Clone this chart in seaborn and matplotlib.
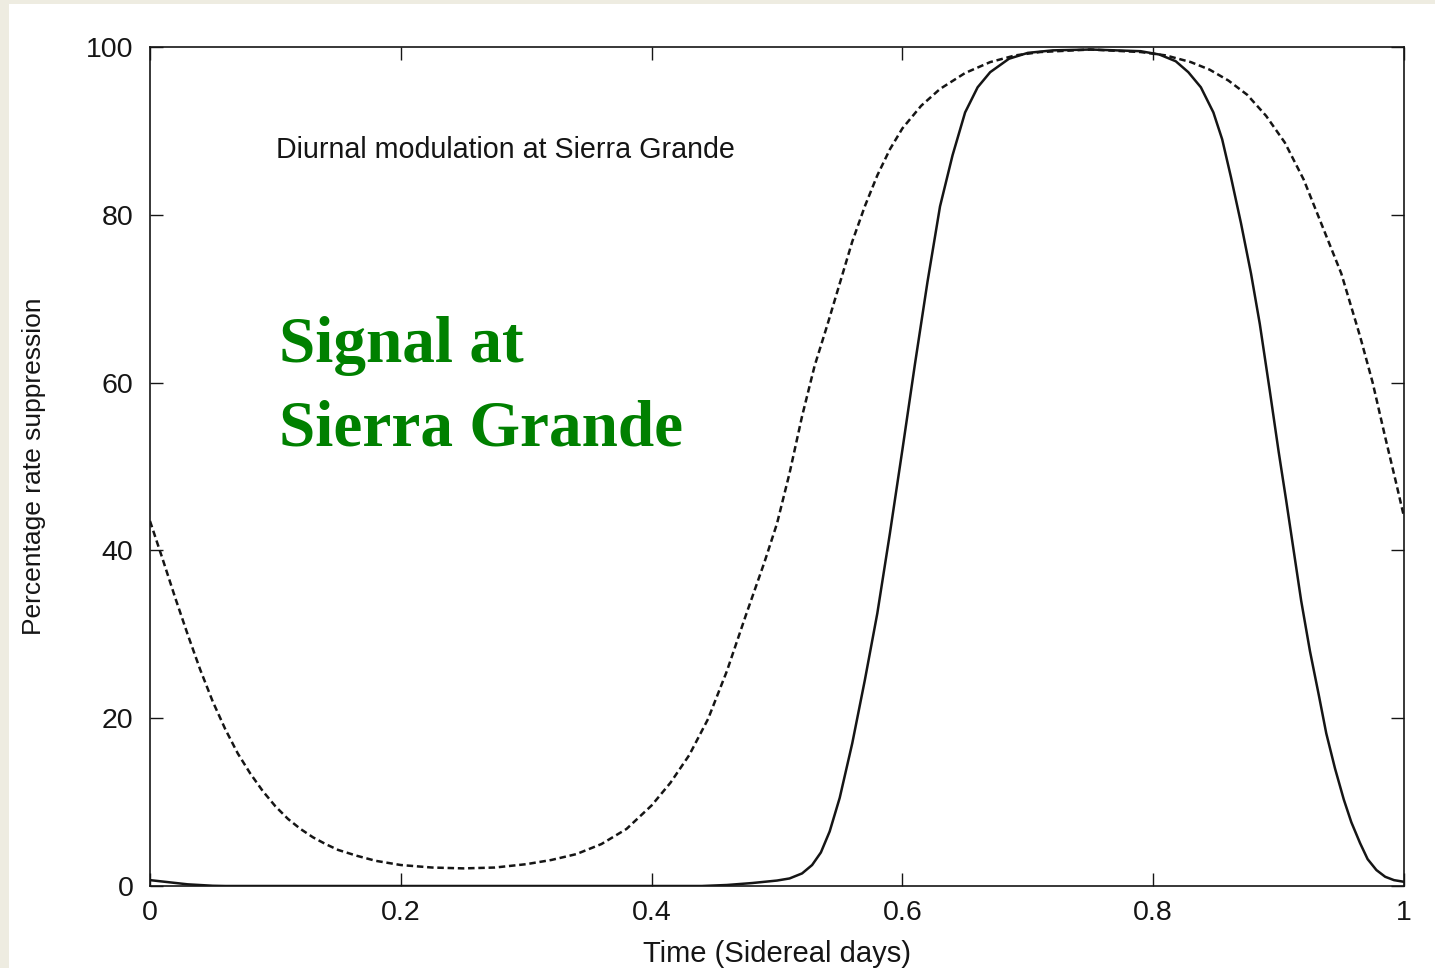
import numpy as np
import pandas as pd
import matplotlib
matplotlib.use("Agg")
import matplotlib.pyplot as plt
from matplotlib.patches import Rectangle
import seaborn as sns

# Time in sidereal days and percentage rate suppression for the two curves
time_dashed = [0.000, 0.010, 0.020, 0.030, 0.040, 0.050, 0.060, 0.070, 0.080, 0.090,
               0.100, 0.110, 0.120, 0.130, 0.140, 0.150, 0.165, 0.180, 0.200, 0.225,
               0.250, 0.275, 0.300, 0.320, 0.340, 0.360, 0.380, 0.400, 0.415, 0.430,
               0.445, 0.460, 0.475, 0.490, 0.500, 0.510, 0.520, 0.530, 0.540, 0.550,
               0.560, 0.570, 0.580, 0.590, 0.600, 0.615, 0.630, 0.650, 0.670, 0.690,
               0.710, 0.750, 0.790, 0.810, 0.830, 0.845, 0.860, 0.875, 0.890, 0.905,
               0.920, 0.935, 0.950, 0.965, 0.975, 0.985, 0.993, 1.000]
supp_dashed = [43.5, 39.0, 34.4, 30.0, 25.8, 22.0, 18.7, 15.8, 13.4, 11.3,
               9.5, 8.0, 6.8, 5.8, 5.0, 4.3, 3.6, 3.0, 2.5, 2.2,
               2.1, 2.2, 2.6, 3.1, 3.8, 5.0, 6.8, 9.6, 12.3, 15.6,
               19.9, 25.6, 32.2, 38.6, 43.2, 49.2, 56.0, 62.0, 66.8, 71.8,
               76.8, 81.0, 84.7, 87.8, 90.3, 93.0, 95.0, 96.9, 98.2, 99.0,
               99.4, 99.7, 99.4, 99.0, 98.2, 97.3, 96.0, 94.3, 91.8, 88.6,
               84.2, 78.6, 73.0, 65.5, 60.0, 53.5, 48.5, 44.0]

time_solid = [0.000, 0.015, 0.030, 0.050, 0.060, 0.440, 0.460, 0.480, 0.500, 0.510,
              0.520, 0.528, 0.535, 0.542, 0.550, 0.560, 0.570, 0.580, 0.590, 0.600,
              0.610, 0.620, 0.630, 0.640, 0.650, 0.660, 0.670, 0.685, 0.700, 0.720,
              0.750, 0.790, 0.805, 0.818, 0.828, 0.838, 0.848, 0.855, 0.862, 0.870,
              0.878, 0.885, 0.893, 0.900, 0.906, 0.912, 0.918, 0.925, 0.932, 0.938,
              0.945, 0.952, 0.958, 0.965, 0.971, 0.978, 0.985, 0.992, 1.000]
supp_solid = [0.7, 0.45, 0.2, 0.03, 0.0, 0.0, 0.12, 0.35, 0.65, 0.9,
              1.5, 2.5, 4.0, 6.5, 10.5, 17.0, 24.5, 32.5, 42.0, 52.0,
              62.2, 72.0, 81.0, 87.1, 92.2, 95.2, 97.0, 98.6, 99.3, 99.6,
              99.7, 99.5, 99.1, 98.3, 97.0, 95.2, 92.2, 89.0, 84.5, 79.0,
              73.0, 67.0, 59.0, 51.8, 46.0, 40.0, 34.0, 28.0, 22.8, 18.2,
              14.0, 10.3, 7.6, 5.1, 3.2, 1.9, 1.1, 0.7, 0.5]

x_ticks = [0, 0.2, 0.4, 0.6, 0.8, 1]
x_ticklabels = ["0", "0.2", "0.4", "0.6", "0.8", "1"]
y_ticks = [0, 20, 40, 60, 80, 100]
y_ticklabels = ["0", "20", "40", "60", "80", "100"]

sns.set_style("ticks")
plt.rcParams["font.family"] = ["Liberation Sans", "DejaVu Sans"]

W, H = 1435, 968
ink = "#151515"
fig = plt.figure(figsize=(W / 100, H / 100), dpi=100, facecolor="#EEECE1")
# white slide area
fig.patches.append(Rectangle((9 / W, 0), 1, 1 - 4 / H, transform=fig.transFigure,
                             facecolor="white", edgecolor="none", zorder=-10))

ax = fig.add_axes([150 / W, 1 - 886 / H, (1404 - 150) / W, (886 - 47) / H])
ax.set_facecolor("white")

dashed = pd.DataFrame({"t": time_dashed, "s": supp_dashed})
solid = pd.DataFrame({"t": time_solid, "s": supp_solid})

sns.lineplot(data=dashed, x="t", y="s", ax=ax, color=ink, linewidth=1.8,
             sort=False, estimator=None)
ax.lines[-1].set_dashes([2.6, 1.5])
sns.lineplot(data=solid, x="t", y="s", ax=ax, color=ink, linewidth=1.8,
             sort=False, estimator=None)

ax.set_xlim(0, 1)
ax.set_ylim(0, 100)
ax.set_xticks(x_ticks)
ax.set_xticklabels(x_ticklabels)
ax.set_yticks(y_ticks)
ax.set_yticklabels(y_ticklabels)
ax.tick_params(direction="in", length=9.5, width=1.0, top=True, right=True,
               labelsize=20.5, colors=ink)
ax.tick_params(axis="x", pad=10)
ax.tick_params(axis="y", pad=12)
for sp in ax.spines.values():
    sp.set_visible(True)
    sp.set_linewidth(1.2)
    sp.set_color(ink)

ax.set_xlabel("Time (Sidereal days)", fontsize=21, color=ink, labelpad=10)
ax.set_ylabel("Percentage rate suppression", fontsize=19, color=ink, labelpad=29)

ax.text((276 - 150) / 1254, 1 - (158 - 47) / 839,
        "Diurnal modulation at Sierra Grande", transform=ax.transAxes,
        fontsize=20.6, color=ink, ha="left", va="baseline")

serif = ["Liberation Serif", "DejaVu Serif"]
fig.text(279 / W, 1 - 362 / H, "Signal at", fontsize=47, color="#008000",
         fontweight="bold", family=serif, ha="left", va="baseline")
fig.text(279 / W, 1 - 445 / H, "Sierra Grande", fontsize=47, color="#008000",
         fontweight="bold", family=serif, ha="left", va="baseline")

fig.savefig("out.png", dpi=100, facecolor=fig.get_facecolor())
